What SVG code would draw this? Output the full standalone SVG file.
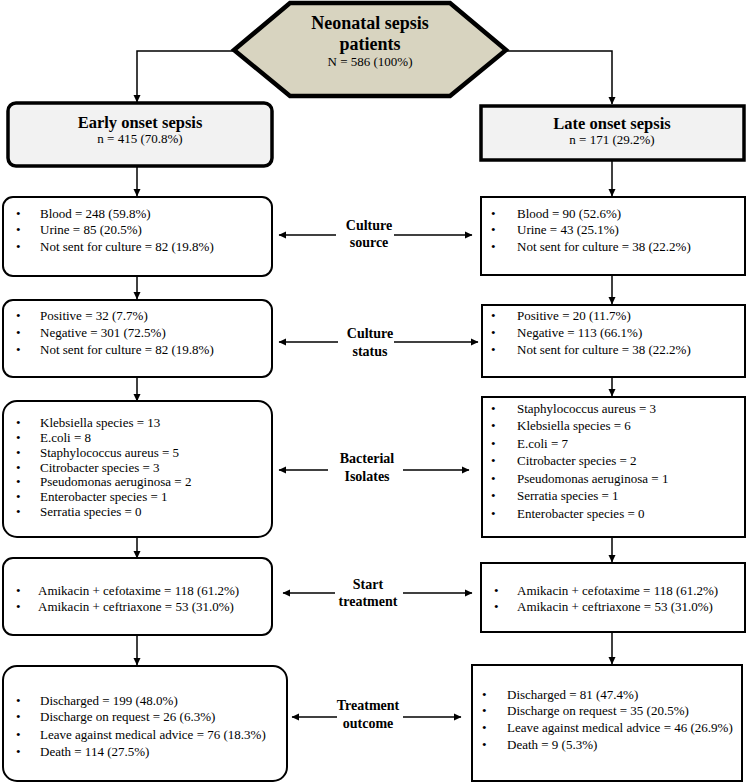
<svg xmlns="http://www.w3.org/2000/svg" width="750" height="783" viewBox="0 0 750 783">
<defs>
<marker id="ah" markerWidth="8" markerHeight="8" refX="7" refY="4" orient="auto" markerUnits="userSpaceOnUse">
<path d="M0,0.5 L7.5,4 L0,7.5 Z" fill="#000"/>
</marker>
<style>
text{font-family:"Liberation Serif","Times New Roman",serif;fill:#000}
.t{font-size:13px}
.b{font-size:14px;font-weight:bold;text-anchor:middle}
.h{font-size:16.5px;font-weight:bold;text-anchor:middle}
.c{font-size:13px;text-anchor:middle}
.box{fill:#fff;stroke:#000;stroke-width:2}
.hd{fill:#f2f2f2;stroke:#000;stroke-width:3.5}
.ln{fill:none;stroke:#000;stroke-width:1.5;marker-end:url(#ah)}
</style>
</defs>
<rect width="750" height="783" fill="#fff"/>
<g id="connectors">
<path class="ln" d="M233,51 H137 V102"/>
<path class="ln" d="M507,51 H612 V104"/>
<path class="ln" d="M137,166 V196"/>
<path class="ln" d="M612,161 V196"/>
<path class="ln" d="M137,277 V299"/>
<path class="ln" d="M612,276 V304"/>
<path class="ln" d="M137,378 V401"/>
<path class="ln" d="M612,378 V396"/>
<path class="ln" d="M137,538 V558"/>
<path class="ln" d="M612,538 V562"/>
<path class="ln" d="M137,636 V665"/>
<path class="ln" d="M612,633 V664"/>
<path class="ln" d="M336,235 H279"/>
<path class="ln" d="M394,235 H472"/>
<path class="ln" d="M338,342 H279"/>
<path class="ln" d="M394,342 H478"/>
<path class="ln" d="M328,470 H279"/>
<path class="ln" d="M403,470 H469"/>
<path class="ln" d="M335,593 H283"/>
<path class="ln" d="M403,593 H472"/>
<path class="ln" d="M337,717 H292"/>
<path class="ln" d="M403,717 H461"/>
</g>
<g id="root">
<polygon points="290,3 450,3 506,50 450,96 290,96 234,50" fill="#d8d4c0" stroke="#000" stroke-width="4.5" stroke-linejoin="miter"/>
<text class="h" x="370" y="29" style="font-size:18px">Neonatal sepsis</text>
<text class="h" x="370" y="50" style="font-size:18px">patients</text>
<text class="c" x="370" y="66">N = 586 (100%)</text>
</g>
<g id="early">
<rect class="hd" x="8" y="103" width="264" height="63" rx="8"/>
<text class="h" x="140" y="128">Early onset sepsis</text>
<text class="c" x="140" y="143">n = 415 (70.8%)</text>
</g>
<g id="late">
<rect class="hd" x="481" y="106" width="263" height="54"/>
<text class="h" x="612" y="129">Late onset sepsis</text>
<text class="c" x="612" y="144">n = 171 (29.2%)</text>
</g>
<g id="early-source">
<rect class="box" x="3" y="197" width="269" height="79" rx="10"/>
<text class="t" x="16" y="218">•</text><text class="t" x="40" y="218">Blood = 248 (59.8%)</text>
<text class="t" x="16" y="234">•</text><text class="t" x="40" y="234">Urine = 85 (20.5%)</text>
<text class="t" x="16" y="251">•</text><text class="t" x="40" y="251">Not sent for culture = 82 (19.8%)</text>
</g>
<g id="late-source">
<rect class="box" x="481" y="197" width="264" height="78"/>
<text class="t" x="491" y="218">•</text><text class="t" x="517" y="218">Blood = 90 (52.6%)</text>
<text class="t" x="491" y="234">•</text><text class="t" x="517" y="234">Urine = 43 (25.1%)</text>
<text class="t" x="491" y="251">•</text><text class="t" x="517" y="251">Not sent for culture = 38 (22.2%)</text>
</g>
<g id="label-source">
<text class="b" x="369" y="230">Culture</text>
<text class="b" x="369" y="247">source</text>
</g>
<g id="early-status">
<rect class="box" x="3" y="300" width="269" height="77" rx="10"/>
<text class="t" x="16" y="320">•</text><text class="t" x="40" y="320">Positive = 32 (7.7%)</text>
<text class="t" x="16" y="337">•</text><text class="t" x="40" y="337">Negative = 301 (72.5%)</text>
<text class="t" x="16" y="354">•</text><text class="t" x="40" y="354">Not sent for culture = 82 (19.8%)</text>
</g>
<g id="late-status">
<rect class="box" x="482" y="305" width="263" height="72"/>
<text class="t" x="491" y="320">•</text><text class="t" x="517" y="320">Positive = 20 (11.7%)</text>
<text class="t" x="491" y="337">•</text><text class="t" x="517" y="337">Negative = 113 (66.1%)</text>
<text class="t" x="491" y="354">•</text><text class="t" x="517" y="354">Not sent for culture = 38 (22.2%)</text>
</g>
<g id="label-status">
<text class="b" x="370" y="338">Culture</text>
<text class="b" x="370" y="356">status</text>
</g>
<g id="early-isolates">
<rect class="box" x="3" y="401" width="269" height="136" rx="14"/>
<text class="t" x="16" y="427">•</text><text class="t" x="40" y="427">Klebsiella species = 13</text>
<text class="t" x="16" y="442">•</text><text class="t" x="40" y="442">E.coli = 8</text>
<text class="t" x="16" y="457">•</text><text class="t" x="40" y="457">Staphylococcus aureus = 5</text>
<text class="t" x="16" y="472">•</text><text class="t" x="40" y="472">Citrobacter species = 3</text>
<text class="t" x="16" y="486">•</text><text class="t" x="40" y="486">Pseudomonas aeruginosa = 2</text>
<text class="t" x="16" y="501">•</text><text class="t" x="40" y="501">Enterobacter species = 1</text>
<text class="t" x="16" y="516">•</text><text class="t" x="40" y="516">Serratia species = 0</text>
</g>
<g id="late-isolates">
<rect class="box" x="482" y="397" width="263" height="140"/>
<text class="t" x="491" y="413">•</text><text class="t" x="517" y="413">Staphylococcus aureus = 3</text>
<text class="t" x="491" y="430">•</text><text class="t" x="517" y="430">Klebsiella species = 6</text>
<text class="t" x="491" y="448">•</text><text class="t" x="517" y="448">E.coli = 7</text>
<text class="t" x="491" y="465">•</text><text class="t" x="517" y="465">Citrobacter species = 2</text>
<text class="t" x="491" y="483">•</text><text class="t" x="517" y="483">Pseudomonas aeruginosa = 1</text>
<text class="t" x="491" y="500">•</text><text class="t" x="517" y="500">Serratia species = 1</text>
<text class="t" x="491" y="518">•</text><text class="t" x="517" y="518">Enterobacter species = 0</text>
</g>
<g id="label-isolates">
<text class="b" x="367" y="463">Bacterial</text>
<text class="b" x="367" y="481">Isolates</text>
</g>
<g id="early-treatment">
<rect class="box" x="3" y="558" width="269" height="77" rx="10"/>
<text class="t" x="16" y="595">•</text><text class="t" x="38" y="595">Amikacin + cefotaxime = 118 (61.2%)</text>
<text class="t" x="16" y="611">•</text><text class="t" x="38" y="611">Amikacin + ceftriaxone = 53 (31.0%)</text>
</g>
<g id="late-treatment">
<rect class="box" x="481" y="563" width="264" height="69"/>
<text class="t" x="494" y="595">•</text><text class="t" x="517" y="595">Amikacin + cefotaxime = 118 (61.2%)</text>
<text class="t" x="494" y="611">•</text><text class="t" x="517" y="611">Amikacin + ceftriaxone = 53 (31.0%)</text>
</g>
<g id="label-treatment">
<text class="b" x="368" y="589">Start</text>
<text class="b" x="368" y="606">treatment</text>
</g>
<g id="early-outcome">
<rect class="box" x="3" y="666" width="284" height="115" rx="14"/>
<text class="t" x="16" y="705">•</text><text class="t" x="40" y="705">Discharged = 199 (48.0%)</text>
<text class="t" x="16" y="721">•</text><text class="t" x="40" y="721">Discharge on request = 26 (6.3%)</text>
<text class="t" x="16" y="739">•</text><text class="t" x="40" y="739">Leave against medical advice = 76 (18.3%)</text>
<text class="t" x="16" y="756">•</text><text class="t" x="40" y="756">Death = 114 (27.5%)</text>
</g>
<g id="late-outcome">
<rect class="box" x="472" y="665" width="270" height="116"/>
<text class="t" x="482" y="699">•</text><text class="t" x="507" y="699">Discharged = 81 (47.4%)</text>
<text class="t" x="482" y="715">•</text><text class="t" x="507" y="715">Discharge on request = 35 (20.5%)</text>
<text class="t" x="482" y="732">•</text><text class="t" x="507" y="732">Leave against medical advice = 46 (26.9%)</text>
<text class="t" x="482" y="749">•</text><text class="t" x="507" y="749">Death = 9 (5.3%)</text>
</g>
<g id="label-outcome">
<text class="b" x="368" y="710">Treatment</text>
<text class="b" x="368" y="728">outcome</text>
</g>
</svg>
